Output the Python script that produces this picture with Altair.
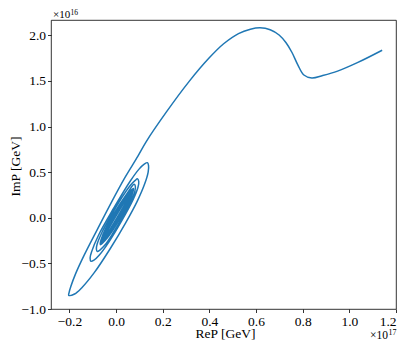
import altair as alt
import pandas as pd

# outer trail (from the far end inward), Re P in 1e17 GeV, Im P in 1e16 GeV
trail_re = [1.1406, 1.0344, 0.9495, 0.8858, 0.8391, 0.8051, 0.7796, 0.7541, 0.7287,
            0.6989, 0.6607, 0.6170, 0.5758, 0.5248, 0.4611, 0.3975, 0.3125, 0.2136,
            0.1287, 0.0930]
trail_im = [1.8362, 1.7000, 1.6074, 1.5596, 1.5330, 1.5649, 1.6734, 1.8117, 1.9181,
            2.0032, 2.0617, 2.0830, 2.0670, 2.0191, 1.9074, 1.7479, 1.4926, 1.1521,
            0.8330, 0.6734]

# outer loops of the spiral
loop_re = [0.0371, -0.0229, -0.0807, -0.1378, -0.1729, -0.1937, -0.2020, -0.2030,
           -0.1779, -0.1477, -0.0936, -0.0240, 0.0404, 0.0899, 0.1231, 0.1375, 0.1392, 0.1343,
           0.1206, 0.0984, 0.0610, -0.0108, -0.0763, -0.1039, -0.1114, -0.1075,
           -0.0948, -0.0727, -0.0303, 0.0239, 0.0733, 0.0936, 0.0971, 0.0911,
           0.0821, 0.0606, 0.0226, -0.0202, -0.0601, -0.0811, -0.0844, -0.0802,
           -0.0694, -0.0479, -0.0127, 0.0301, 0.0632, 0.0804, 0.0825, 0.0773]
loop_im = [0.4376, 0.1559, -0.1290, -0.4150, -0.6098, -0.7516, -0.8250, -0.8500,
           -0.8360, -0.7689, -0.6017, -0.3338, -0.0585, 0.1771, 0.3747, 0.5012, 0.5724, 0.6041,
           0.5872, 0.5333, 0.4031, 0.1017, -0.1968, -0.3656, -0.4408, -0.4772,
           -0.4647, -0.4108, -0.2633, -0.0346, 0.2010, 0.3315, 0.4001, 0.4272,
           0.4095, 0.3546, 0.2130, 0.0293, -0.1588, -0.2880, -0.3448, -0.3692,
           -0.3542, -0.2993, -0.1659, 0.0179, 0.1788, 0.2891, 0.3474, 0.3673]

# dense inner core
core_re = [0.0503, -0.0073, -0.0563, -0.0679, -0.0372, 0.0172, 0.0634, 0.0743,
           0.0445, -0.0092, -0.0553, -0.0669, -0.0377, 0.0153, 0.0612, 0.0732,
           0.0451, -0.0073, -0.0532, -0.0658, -0.0384, 0.0135, 0.0593, 0.0722,
           0.0456, -0.0055, -0.0512, -0.0648, -0.0388, 0.0116, 0.0572, 0.0711,
           0.0462, -0.0036, -0.0491, -0.0637, -0.0395, 0.0098, 0.0552, 0.0701,
           0.0467, -0.0018, -0.0471, -0.0626, -0.0399, 0.0080, 0.0531, 0.0690,
           0.0472, 0.0000, -0.0450, -0.0616, -0.0406, 0.0061, 0.0511, 0.0679]
core_im = [0.2785, 0.0535, -0.1840, -0.2948, -0.2188, -0.0064, 0.2179, 0.3225,
           0.2458, 0.0347, -0.1872, -0.2902, -0.2132, -0.0037, 0.2161, 0.3178,
           0.2407, 0.0321, -0.1859, -0.2856, -0.2086, -0.0011, 0.2152, 0.3132,
           0.2356, 0.0294, -0.1845, -0.2810, -0.2031, 0.0016, 0.2134, 0.3086,
           0.2305, 0.0268, -0.1832, -0.2764, -0.1984, 0.0043, 0.2125, 0.3040,
           0.2254, 0.0241, -0.1818, -0.2718, -0.1928, 0.0069, 0.2107, 0.2994,
           0.2198, 0.0214, -0.1800, -0.2672, -0.1882, 0.0096, 0.2098, 0.2948]

x_ticks = [-0.2, 0.0, 0.2, 0.4, 0.6, 0.8, 1.0, 1.2]
y_ticks = [-1.0, -0.5, 0.0, 0.5, 1.0, 1.5, 2.0]

re_p = trail_re + loop_re + core_re
im_p = trail_im + loop_im + core_im
df = pd.DataFrame({"i": list(range(len(re_p))), "re": re_p, "im": im_p})

FONT = "Liberation Serif"
W, H = 345, 289

common_axis = dict(grid=False, domain=False, tickSize=3.5, tickWidth=0.8, tickColor="black",
                   labelFont=FONT, labelFontSize=13.5, labelColor="black", labelOverlap=False,
                   labelFlush=False, format=".1f", titleFont=FONT, titleFontSize=13.5,
                   titleFontWeight="normal", titleColor="black")

line = alt.Chart(df).mark_line(color="#1f77b4", strokeWidth=1.5, interpolate="catmull-rom").encode(
    x=alt.X("re:Q", scale=alt.Scale(domain=[-0.279, 1.2], nice=False, zero=False),
            axis=alt.Axis(values=x_ticks, title="ReP [GeV]", labelPadding=1.5,
                          labelAlign=alt.ExprRef(expr="datum.value > 1.1 ? 'right' : 'center'"),
                          titleX=174, titleY=28.5, titleAlign="center", titleBaseline="alphabetic",
                          **common_axis)),
    y=alt.Y("im:Q", scale=alt.Scale(domain=[-1.0, 2.168], nice=False, zero=False),
            axis=alt.Axis(values=y_ticks, title="ImP [GeV]", labelPadding=2,
                          titleAngle=-90, titleX=-32, titleY=146, titleAlign="center",
                          titleBaseline="alphabetic", **common_axis)),
    order=alt.Order("i:Q"),
)

one = pd.DataFrame({"k": [0]})


def label(text, x, y, size, align="left"):
    return alt.Chart(one).mark_text(text=text, font=FONT, fontSize=size, color="black",
                                    align=align, baseline="alphabetic").encode(
        x=alt.value(x), y=alt.value(y))


chart = alt.layer(
    line,
    label("×10", 2, -2.5, 11),
    label("16", 19.5, -5.3, 7.5),
    label("×10", 337, H + 29.5, 11.5, "right"),
    label("17", 337.5, H + 25.5, 8),
).properties(
    width=W, height=H,
    autosize=alt.AutoSizeParams(type="none"),
    padding={"left": 43, "top": 12, "right": 1, "bottom": 31},
).configure_view(stroke="black", strokeWidth=0.8)

chart.save("out.html", embed_options={"renderer": "svg", "actions": False})
